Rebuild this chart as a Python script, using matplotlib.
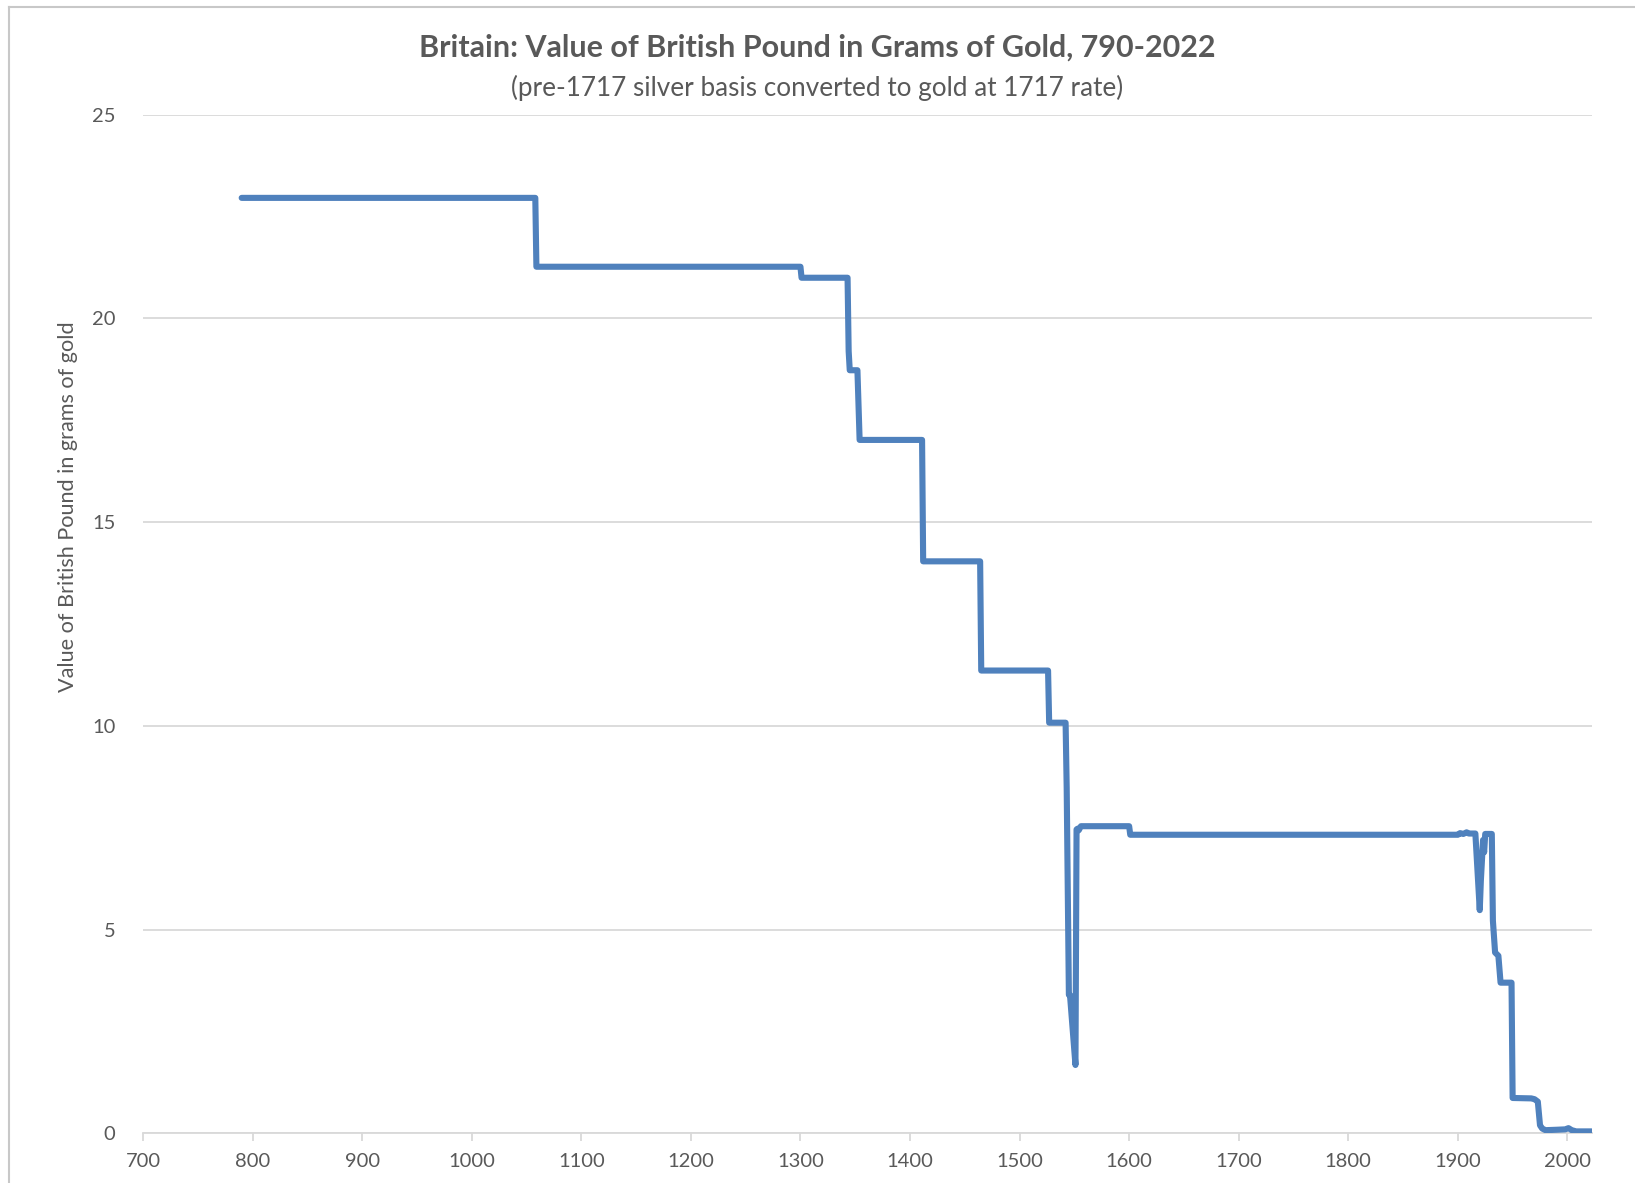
import matplotlib.pyplot as plt
from matplotlib.lines import Line2D

# Pound value in grams of gold, breakpoints by year
years = [790, 1058, 1059, 1300, 1301, 1343, 1344, 1345, 1352, 1354,
         1411, 1412, 1464, 1465, 1526, 1527, 1542, 1543, 1545, 1546,
         1551, 1552, 1553, 1554, 1556, 1600, 1601, 1900, 1902, 1905,
         1908, 1910, 1916, 1920, 1921, 1922, 1923, 1924, 1925, 1931,
         1932, 1934, 1937, 1939, 1949, 1950, 1967, 1970, 1973, 1975,
         1977, 1980, 1990, 1998, 2001, 2004, 2008, 2022]
grams = [22.96, 22.96, 21.27, 21.27, 21.0, 21.0, 19.2, 18.73, 18.73, 17.02,
         17.02, 14.04, 14.04, 11.36, 11.36, 10.08, 10.08, 8.48, 3.40, 3.40,
         1.68, 7.46, 7.48, 7.44, 7.54, 7.54, 7.33, 7.33, 7.37, 7.35,
         7.39, 7.36, 7.36, 5.48, 6.2, 6.7, 7.2, 6.9, 7.35, 7.35,
         5.22, 4.44, 4.36, 3.70, 3.70, 0.87, 0.86, 0.84, 0.78, 0.2,
         0.12, 0.08, 0.09, 0.10, 0.13, 0.08, 0.05, 0.05]

xticks = list(range(700, 2001, 100))
yticks = [0, 5, 10, 15, 20, 25]

plt.rcParams['font.family'] = ['Lato', 'DejaVu Sans']
grey = '#595959'

fig = plt.figure(figsize=(16.35, 11.83), dpi=100)
ax = fig.add_axes([0.0875, 0.0419, 0.8859, 0.8611])

ax.plot(years, grams, color='#4f81bd', linewidth=4.4,
        solid_joinstyle='round', solid_capstyle='round', zorder=3)

ax.set_xlim(700, 2022)
ax.set_ylim(0, 25)
ax.set_xticks(xticks)
ax.set_yticks(yticks)
ax.grid(axis='y', color='#d9d9d9', linewidth=1.3)
ax.set_axisbelow(True)

for side in ['top', 'right', 'left']:
    ax.spines[side].set_visible(False)
ax.spines['bottom'].set_color('#d9d9d9')
ax.spines['bottom'].set_linewidth(1.3)

ax.tick_params(axis='x', colors='#d9d9d9', length=6, width=1.3,
               labelcolor=grey, labelsize=14.5, pad=8)
ax.tick_params(axis='y', length=0, labelcolor=grey, labelsize=14.5, pad=20)

fig.text(0.5, 0.960, 'Britain: Value of British Pound in Grams of Gold, 790-2022',
         ha='center', va='center', fontsize=22, fontweight='bold', color=grey)
fig.text(0.5, 0.926, '(pre-1717 silver basis converted to gold at 1717 rate)',
         ha='center', va='center', fontsize=18.8, color=grey)
fig.text(0.0415, 0.572, 'Value of British Pound in grams of gold',
         ha='center', va='center', rotation=90, fontsize=15.6, color=grey)

# chart frame
fig.add_artist(Line2D([0.0055, 1.0], [0.9943, 0.9943], color='#c8c8c8', linewidth=1.5))
fig.add_artist(Line2D([0.0055, 0.0055], [0.0, 0.9943], color='#c8c8c8', linewidth=1.5))

fig.savefig('out.png', dpi=100, facecolor='white')
